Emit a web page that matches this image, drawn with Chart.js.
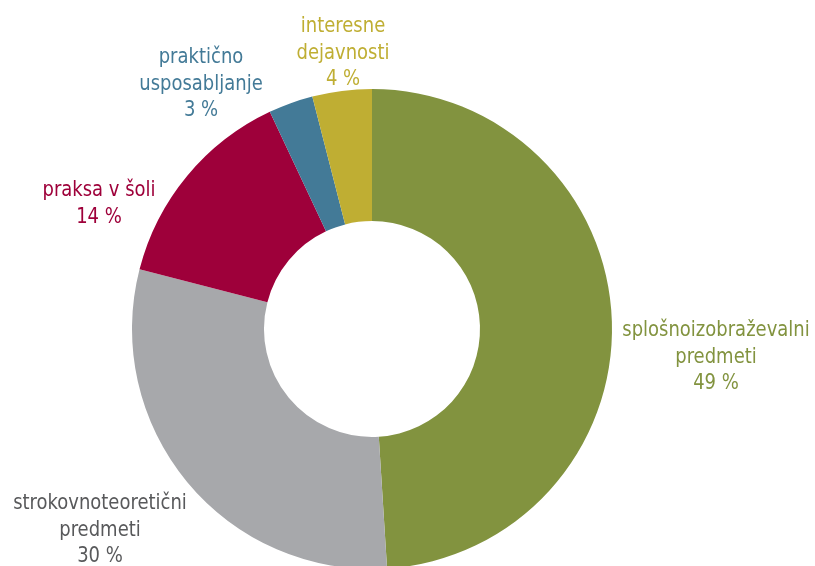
<!DOCTYPE html>
<html>
<head>
<meta charset="utf-8">
<script src="https://cdn.jsdelivr.net/npm/chart.js@4"></script>
<style>
  html, body { margin: 0; padding: 0; background: #fff; overflow: hidden; }
  #wrap { width: 815px; height: 570px; }
</style>
</head>
<body>
<div id="wrap"><canvas id="myChart" width="815" height="570"></canvas></div>
<script>
// data
const categories = ["splošnoizobraževalni predmeti", "strokovnoteoretični predmeti", "praksa v šoli", "praktično usposabljanje", "interesne dejavnosti"]
const shares = [49, 30, 14, 3, 4]
const sliceColors = ["#82933f", "#a7a8ab", "#9e003a", "#437a97", "#bfae33"]
const labelColors = ["#82933f", "#58595b", "#9e003a", "#437a97", "#bfae33"]

// label lines and where they sit (centre x, first baseline)
const labelLines = [
  ["splošnoizobraževalni", "predmeti", shares[0] + " %"],
  ["strokovnoteoretični", "predmeti", shares[1] + " %"],
  ["praksa v šoli", shares[2] + " %"],
  ["praktično", "usposabljanje", shares[3] + " %"],
  ["interesne", "dejavnosti", shares[4] + " %"]
]
const labelPos = [[716, 336], [100, 509], [99, 196], [201, 63], [343, 32]]

const labelPlugin = {
  id: "sliceLabels",
  afterDraw(chart) {
    const c = chart.ctx
    const sx = 0.93 // narrow the face a bit, the original is a condensed font
    c.save()
    c.font = "21.5px 'Liberation Sans Narrow', 'DejaVu Sans Condensed', sans-serif"
    c.textAlign = "center"
    c.textBaseline = "alphabetic"
    c.scale(sx, 1)
    labelLines.forEach((lines, i) => {
      c.fillStyle = labelColors[i]
      lines.forEach((t, j) => {
        c.fillText(t, labelPos[i][0] / sx, labelPos[i][1] + j * 26.5)
      })
    })
    c.restore()
  }
}

const ctx = document.getElementById("myChart")
new Chart(ctx, {
  type: "doughnut",
  data: {
    labels: categories,
    datasets: [{
      data: shares,
      backgroundColor: sliceColors,
      borderWidth: 0
    }]
  },
  options: {
    responsive: false,
    animation: false,
    cutout: "45%",
    layout: { padding: { top: 89, left: 132, right: 203, bottom: 1 } },
    plugins: {
      legend: { display: false },
      tooltip: { enabled: false }
    }
  },
  plugins: [labelPlugin]
})
</script>
</body>
</html>
